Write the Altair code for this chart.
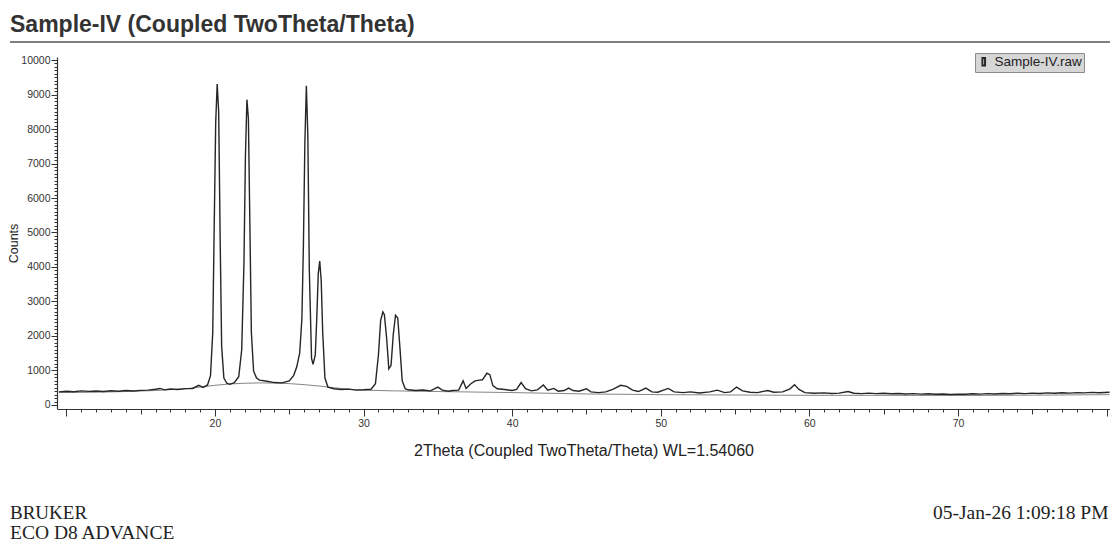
import altair as alt
import pandas as pd

# Measured diffractogram (2-theta in degrees, detector counts)
two_theta = [
    9.5, 10.0, 10.5, 11.0, 11.5, 12.0, 12.5, 13.0, 13.5, 14.0, 14.5, 15.0, 15.5, 16.0, 16.3, 16.6,
    17.0, 17.5, 18.0, 18.5, 18.9, 19.2, 19.5, 19.7, 19.85, 19.95, 20.05, 20.15, 20.25, 20.35, 20.45,
    20.6, 20.8, 21.0, 21.3, 21.6, 21.8, 21.95, 22.05, 22.15, 22.25, 22.35, 22.45, 22.6, 22.8, 23.0,
    23.5, 24.0, 24.5, 25.0, 25.3, 25.5, 25.7, 25.85, 25.95, 26.05, 26.15, 26.25, 26.35, 26.5, 26.6,
    26.75, 26.85, 26.95, 27.05, 27.15, 27.25, 27.4, 27.6, 28.0, 28.5, 29.0, 29.5, 30.0, 30.5, 30.8,
    31.0, 31.15, 31.3, 31.4, 31.55, 31.7, 31.85, 32.0, 32.15, 32.3, 32.45, 32.6, 32.8, 33.0, 33.5,
    34.0, 34.5, 35.0, 35.3, 35.7, 36.0, 36.4, 36.7, 36.9, 37.2, 37.5, 37.8, 38.0, 38.3, 38.5, 38.7,
    39.0, 39.5, 40.0, 40.3, 40.6, 40.9, 41.3, 41.7, 42.1, 42.4, 42.8, 43.1, 43.5, 43.8, 44.1, 44.5,
    45.0, 45.3, 45.8, 46.3, 46.8, 47.3, 47.7, 48.1, 48.5, 49.0, 49.4, 49.8, 50.5, 50.9, 51.5, 52.0,
    52.6, 53.3, 53.8, 54.3, 54.7, 55.1, 55.5, 56.0, 56.5, 57.2, 57.6, 58.2, 58.7, 59.0, 59.3, 59.7,
    60.3, 61.0, 61.5, 62.0, 62.6, 63.0, 63.5, 64.0, 64.5, 65.0, 65.5, 66.0, 66.5, 67.0, 67.5, 68.0,
    68.5, 69.0, 69.5, 70.0, 70.5, 71.0, 71.5, 72.0, 72.5, 73.0, 73.5, 74.0, 74.5, 75.0, 75.5, 76.0,
    76.5, 77.0, 77.5, 78.0, 78.5, 79.0, 79.5, 80.2,
]
counts = [
    380, 400, 385, 410, 395, 405, 390, 415, 400, 420, 405, 425, 430, 455, 480, 440,
    465, 450, 475, 480, 570, 510, 580, 850, 2100, 5200, 8200, 9300, 8500, 4800, 1700,
    780, 630, 600, 650, 820, 1600, 4100, 7200, 8850, 8300, 5200, 2100, 980, 780, 720,
    690, 650, 640, 700, 860, 1100, 1500, 2500, 4600, 7600, 9250, 7800, 3900, 1350, 1180,
    1450, 2500, 3800, 4170, 3600, 2100, 780, 520, 470, 450, 460, 430, 440, 455, 620,
    1450, 2450, 2700, 2620, 1950, 1050, 1150, 2050, 2600, 2520, 1650, 700, 470, 440, 420,
    435, 410, 520, 430, 400, 420, 430, 700, 480, 610, 700, 720, 730, 920, 880, 560,
    470, 450, 420, 450, 650, 470, 410, 440, 580, 430, 480, 400, 420, 490, 420, 400,
    470, 380, 360, 380, 460, 570, 540, 430, 390, 490, 380, 370, 480, 380, 360, 380,
    350, 380, 430, 360, 380, 520, 410, 370, 360, 420, 370, 380, 470, 590, 450, 360,
    340, 350, 335, 345, 390, 340, 330, 345, 330, 340, 325, 335, 320, 330, 315, 325,
    310, 320, 305, 315, 310, 325, 315, 330, 320, 335, 325, 340, 330, 345, 335, 350,
    340, 355, 345, 360, 350, 365, 355, 370,
]

# Fitted background curve
bg_theta = [9.5, 12, 14, 16, 18, 19, 20, 21, 22, 23, 24, 25, 26, 27, 28, 29, 30, 32, 35,
            40, 45, 50, 55, 60, 65, 70, 75, 80.2]
bg_counts = [360, 370, 390, 420, 470, 520, 570, 610, 630, 640, 635, 620, 590, 550, 500, 460,
             430, 410, 390, 360, 320, 300, 290, 280, 280, 275, 285, 300]

x_ticks = list(range(10, 81))
y_ticks = list(range(0, 10001, 100))

series_name = "Sample-IV.raw"
scan = pd.DataFrame({"two_theta": two_theta, "counts": counts, "series": series_name})
background = pd.DataFrame({"two_theta": bg_theta, "counts": bg_counts})

SANS = "Liberation Sans, Arial"
SERIF = "Liberation Serif, Times New Roman"

x_scale = alt.Scale(domain=[9.37, 80.23], nice=False, zero=False)
y_scale = alt.Scale(domain=[-116, 10087], nice=False, zero=False)

x_axis = alt.Axis(
    values=x_ticks,
    labelExpr="(datum.value % 10 === 0 && datum.value >= 20 && datum.value <= 70) ? datum.label : ''",
    labelOverlap=False,
    labelFlush=False,
    tickSize={"condition": [{"test": "datum.value % 10 === 0", "value": 7},
                            {"test": "datum.value % 5 === 0", "value": 5}], "value": 3},
    tickColor="#333",
    domainColor="#333",
    domainWidth=1.2,
    grid=False,
    labelFont=SANS,
    labelFontSize=10.5,
    labelColor="#333",
    labelPadding=2,
    title="2Theta (Coupled TwoTheta/Theta) WL=1.54060",
    titleFont=SANS,
    titleFontSize=16,
    titleFontWeight="normal",
    titleColor="#222",
    titlePadding=14,
)

y_axis = alt.Axis(
    values=y_ticks,
    labelExpr="datum.value % 1000 === 0 ? datum.label : ''",
    format="d",
    labelOverlap=False,
    labelFlush=False,
    tickSize={"condition": {"test": "datum.value % 1000 === 0", "value": 6}, "value": 3},
    tickColor="#333",
    domainColor="#333",
    domainWidth=1.2,
    grid=False,
    labelFont=SANS,
    labelFontSize=10.5,
    labelColor="#333",
    labelPadding=1,
    title="Counts",
    titleFont=SANS,
    titleFontSize=12.5,
    titleFontWeight="normal",
    titleColor="#222",
    titleY=186,
    titleX=-37,
)

bg_line = alt.Chart(background).mark_line(strokeWidth=0.8, color="#666").encode(
    x=alt.X("two_theta:Q", scale=x_scale, axis=x_axis),
    y=alt.Y("counts:Q", scale=y_scale, axis=y_axis),
)

trace = alt.Chart(scan).mark_line(strokeWidth=1.4, interpolate="linear").encode(
    x=alt.X("two_theta:Q", scale=x_scale, axis=x_axis),
    y=alt.Y("counts:Q", scale=y_scale, axis=y_axis),
    color=alt.Color(
        "series:N",
        scale=alt.Scale(domain=[series_name], range=["#262626"]),
        legend=alt.Legend(
            title=None,
            orient="none",
            legendX=918,
            legendY=-4,
            fillColor="#d6d6d6",
            strokeColor="#8c8c8c",
            padding=2,
            labelFont=SANS,
            labelFontSize=13.5,
            labelColor="#222",
            symbolType="M-0.35,-1H0.35V1H-0.35Z",
            symbolSize=55,
            symbolFillColor="#ffffff",
            symbolStrokeColor="#000000",
            symbolStrokeWidth=2,
        ),
    ),
)

blank = pd.DataFrame({"k": [0]})

title_text = alt.Chart(blank).mark_text(
    text="Sample-IV (Coupled TwoTheta/Theta)", align="left", baseline="alphabetic",
    font="Liberation Sans", fontSize=23, fontWeight="bold", color="#333",
).encode(x=alt.value(-47), y=alt.value(-25))

title_rule = alt.Chart(blank).mark_rule(color="#555", strokeWidth=1.5).encode(
    x=alt.value(-47), x2=alt.value(1060), y=alt.value(-15)
)

maker = alt.Chart(blank).mark_text(
    text="BRUKER", align="left", baseline="alphabetic", font=SERIF, fontSize=19, color="#222",
).encode(x=alt.value(-47), y=alt.value(462))

model = alt.Chart(blank).mark_text(
    text="ECO D8 ADVANCE", align="left", baseline="alphabetic", font=SERIF, fontSize=19.5,
    color="#222",
).encode(x=alt.value(-47), y=alt.value(482))

stamp = alt.Chart(blank).mark_text(
    text="05-Jan-26 1:09:18 PM", align="left", baseline="alphabetic", font=SERIF, fontSize=19.5,
    color="#222",
).encode(x=alt.value(876), y=alt.value(462))

chart = alt.layer(
    bg_line, trace, title_text, title_rule, maker, model, stamp
).properties(
    width=1053,
    height=352,
    autosize=alt.AutoSizeParams(type="none"),
    padding={"left": 57, "top": 57, "right": 0, "bottom": 138},
    background="white",
).configure_view(stroke=None).configure_axis(labelOverlap=False)

chart.save("out.html", embed_options={"renderer": "svg", "actions": False})
